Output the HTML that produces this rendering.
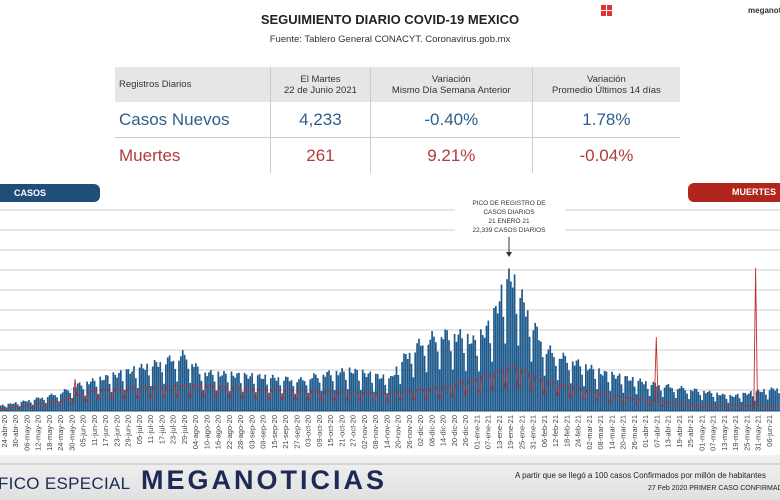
<!DOCTYPE html>
<html><head><meta charset="utf-8"><style>
body{margin:0;width:780px;height:500px;overflow:hidden;background:#fff;font-family:"Liberation Sans",sans-serif;position:relative}
.a{position:absolute}
table{border-collapse:collapse;position:absolute;left:115px;top:67px;width:565px}
td{text-align:center;padding:0;border-left:1px solid #ccc}
td:first-child{border-left:none;text-align:left;padding-left:4px}
tr.h td{background:#e6e6e6;height:35px;font-size:9.5px;color:#333;line-height:11px}
tr.r td{height:35px;font-size:17px}
tr.c td{color:#2e5f8c;border-bottom:1px solid #ccc}
tr.m td{color:#b23b3b}
</style></head><body>
<div class="a" style="left:0;top:455px;width:780px;height:45px;background:linear-gradient(#f2f2f2,#e0e0e0)"></div>
<div class="a" style="left:0;top:12px;width:780px;text-align:center;font-weight:bold;font-size:13px;color:#222">SEGUIMIENTO DIARIO COVID-19 MEXICO</div>
<div class="a" style="left:0;top:34px;width:780px;text-align:center;font-size:9.5px;color:#333">Fuente: Tablero General CONACYT. Coronavirus.gob.mx</div>
<div class="a" style="left:601px;top:5px;width:11px;height:11px;background:linear-gradient(90deg,transparent 5px,#fff 5px,#fff 6px,transparent 6px),linear-gradient(transparent 5px,#fff 5px,#fff 6px,transparent 6px),#d33"></div>
<div class="a" style="left:748px;top:6px;font-size:8px;font-weight:bold;color:#333">meganot</div>
<table>
<tr class="h"><td>Registros Diarios</td><td>El Martes<br>22 de Junio 2021</td><td>Variación<br>Mismo Día Semana Anterior</td><td>Variación<br>Promedio Últimos 14 días</td></tr>
<tr class="r c"><td>Casos Nuevos</td><td>4,233</td><td>-0.40%</td><td>1.78%</td></tr>
<tr class="r m"><td>Muertes</td><td>261</td><td>9.21%</td><td>-0.04%</td></tr>
</table>
<div class="a" style="left:-10px;top:184px;width:110px;height:18px;background:#1f4e79;border-radius:0 6px 6px 0;color:#fff;font-weight:bold;font-size:9px;line-height:18px;text-indent:24px">CASOS</div>
<div class="a" style="left:688px;top:183px;width:100px;height:19px;background:#b0261c;border-radius:6px 0 0 6px;color:#fff;font-weight:bold;font-size:9px;line-height:19px;text-indent:44px">MUERTES</div>
<svg class="a" style="left:0;top:0" width="780" height="500" id="s"></svg>
<div class="a" style="left:-2px;top:474px;font-size:17px;color:#1e2a55;letter-spacing:0.3px">FICO ESPECIAL</div>
<div class="a" style="left:141px;top:465px;font-size:27px;font-weight:bold;color:#1e2a55;letter-spacing:3px">MEGANOTICIAS</div>
<div class="a" style="left:515px;top:471px;font-size:8px;color:#222">A partir que se llegó a 100 casos Confirmados por millón de habitantes</div>
<div class="a" style="left:648px;top:485px;font-size:7px;color:#222;white-space:nowrap">27 Feb 2020 PRIMER CASO CONFIRMADO</div>
<script>
var s=document.getElementById('s'),h='';
[210,230,250,270,290,310,330,350,370,390].forEach(function(y){
 if(y<=230) {h+='<line x1="0" x2="455" y1="'+y+'" y2="'+y+'" stroke="#ccc"/><line x1="565" x2="780" y1="'+y+'" y2="'+y+'" stroke="#ccc"/>';}
 else h+='<line x1="0" x2="780" y1="'+y+'" y2="'+y+'" stroke="#ccc"/>';});
var kp=[[0,6],[30,12],[60,20],[75,28],[100,35],[150,50],[185,62],[200,42],[250,38],[300,34],[320,40],[350,44],[390,35],[400,55],[420,75],[440,84],[460,82],[475,75],[490,95],[500,125],[510,148],[520,125],[530,100],[545,68],[560,60],[600,42],[650,30],[700,22],[730,16],[760,22],[780,25]];
function env(x){for(var i=1;i<kp.length;i++){if(x<=kp[i][0]){var a=kp[i-1],b=kp[i];return a[1]+(b[1]-a[1])*(x-a[0])/(b[0]-a[0]);}}return 25;}
var dk=[[0,2],[60,10],[100,22],[200,26],[300,20],[390,18],[450,25],[500,40],[515,45],[540,32],[600,18],[650,10],[700,6],[780,5]];
function denv(x){for(var i=1;i<dk.length;i++){if(x<=dk[i][0]){var a=dk[i-1],b=dk[i];return a[1]+(b[1]-a[1])*(x-a[0])/(b[0]-a[0]);}}return 5;}
var pw=1.875,N=416,pts=[],M=['ene','feb','mar','abr','may','jun','jul','ago','sep','oct','nov','dic'];
var d0=new Date(2020,3,22);
for(var i=0;i<N;i++){var x=i*pw,wd=(i+3)%7,f=wd==5?0.72:wd==6?0.5:(0.92+0.08*Math.sin(i*1.7));
 var hh=env(x)*f;h+='<rect x="'+x.toFixed(2)+'" y="'+(411-hh).toFixed(1)+'" width="1.7" height="'+hh.toFixed(1)+'" fill="#1f5a8c"/>';
 var dh=denv(x)*(wd==6||wd==0?0.55:1);
 if(Math.abs(x-75)<1)dh=32;if(Math.abs(x-657)<1)dh=74;if(Math.abs(x-755)<1)dh=143;
 pts.push(x.toFixed(1)+','+(411-dh).toFixed(1));
 if(i%6==2){var d=new Date(d0.getTime()+i*864e5);var t=('0'+d.getDate()).slice(-2)+'-'+M[d.getMonth()]+'-'+String(d.getFullYear()).slice(2);
  h+='<text transform="translate('+(x+3)+',415) rotate(-90)" text-anchor="end" font-size="7.5" fill="#444" font-family="Liberation Sans">'+t+'</text>';}}
h+='<polyline points="'+pts.join(' ')+'" fill="none" stroke="#c0322a" stroke-width="0.9"/>';
h+='<line x1="0" x2="780" y1="411" y2="411" stroke="#1f4e79"/>';
h+='<line x1="0" x2="780" y1="464" y2="464" stroke="#bbb"/>';
var tx=['PICO DE REGISTRO DE','CASOS DIARIOS','21 ENERO 21','22,339 CASOS DIARIOS'];
tx.forEach(function(t,k){h+='<text x="509" y="'+(205+k*9)+'" text-anchor="middle" font-size="6.5" fill="#333" font-family="Liberation Sans">'+t+'</text>';});
h+='<line x1="509" x2="509" y1="237" y2="254" stroke="#333"/><path d="M506,252 L512,252 L509,257Z" fill="#333"/>';
s.innerHTML=h;
</script>
</body></html>
